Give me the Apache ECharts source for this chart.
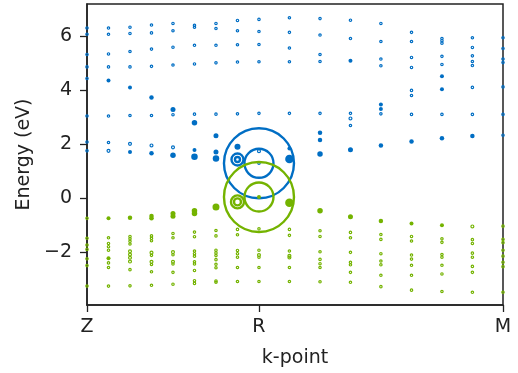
<!DOCTYPE html>
<html lang="en">

<head>
    <meta charset="utf-8">
    <title>band-structure</title>
    <script src="https://cdn.jsdelivr.net/npm/echarts@6/dist/echarts.min.js"></script>
    <style>
        html, body { margin: 0; padding: 0; background: #fff; }
        #container { width: 518px; height: 373px; }
    </style>
</head>

<body>
<div id="container"></div>
<script>
    // k-path distances (Z -> R -> M), 17 k-points
    const kDist = [0, 0.125, 0.25, 0.375, 0.5, 0.625, 0.75, 0.875, 1.0,
        1.177, 1.355, 1.532, 1.709, 1.887, 2.064, 2.241, 2.419];
    const kLabelPos = [0, 1, 2.419];
    const kLabels = ["Z", "R", "M"];
    const energyTicks = [-2, 0, 2, 4, 6];

    // conduction bands (blue): energies per k-point and marker weight
    const blueE = [
        [6.30, 6.07, 5.32, 4.86, 4.43, 3.04, 2.08, 1.75],
        [6.30, 6.07, 5.34, 4.86, 4.36, 3.04, 2.06, 1.75],
        [6.33, 6.10, 5.43, 4.86, 4.10, 3.06, 2.01, 1.71],
        [6.41, 6.12, 5.52, 4.88, 3.73, 3.06, 1.95, 1.66],
        [6.47, 6.20, 5.59, 4.93, 3.28, 3.09, 1.88, 1.59],
        [6.40, 6.33, 5.66, 4.97, 3.11, 2.79, 1.78, 1.53],
        [6.47, 6.28, 5.66, 5.01, 3.11, 2.31, 1.71, 1.47],
        [6.58, 6.20, 5.68, 5.04, 3.12, 1.90],
        [6.62, 6.17, 5.69, 5.05, 3.14, 1.74, 1.29],
        [6.68, 6.14, 5.56, 5.05, 3.14, 1.84, 1.45],
        [6.65, 6.04, 5.32, 5.06, 3.14, 2.42, 2.15, 1.63],
        [6.59, 5.91, 5.09, 3.14, 2.95, 2.69, 1.79],
        [6.47, 5.80, 5.15, 4.90, 3.47, 3.30, 3.12, 1.95],
        [6.14, 5.80, 5.21, 4.84, 3.99, 3.80, 3.10, 2.10],
        [5.91, 5.83, 5.74, 5.25, 4.95, 4.51, 4.03, 3.10, 2.22],
        [5.94, 5.58, 5.27, 5.06, 4.91, 4.10, 3.10, 2.30],
        [5.94, 5.54, 5.15, 5.02, 4.12, 3.10, 2.33]
    ];
    const blueW = [
        [3, 3, 3, 3, 3, 3, 3, 3],
        [3, 3, 3, 3, 4, 3, 3, 3.5],
        [3, 3, 3, 3, 4, 3, 3.5, 4],
        [3, 3, 3, 3, 4.5, 3, 3.5, 4.5],
        [3, 3, 3, 3, 5, 3, 3.5, 5.5],
        [3, 3, 3, 3, 3, 5.5, 4, 6.5],
        [3, 3, 3, 3, 3, 5, 5, 6.5],
        [3, 3, 3, 3, 3, 6],
        [3, 3, 3, 3, 3, 3.5, 3],
        [3, 3, 3, 3, 3, 4, 8.5],
        [3, 3, 3, 3, 3, 4.5, 4.5, 5.5],
        [3, 3, 4, 3, 3.5, 3, 5],
        [3, 3, 3, 3, 4, 4, 3, 4.5],
        [3, 3, 3, 3, 3, 3, 3, 4.5],
        [3, 3, 3, 3, 3, 4, 4, 3, 4.5],
        [3, 3, 3, 3, 3, 3, 3, 4.5],
        [3, 3, 3, 3, 3, 3, 3]
    ];
    const blueRingK = [8, 8, 7, 7];
    const blueRingE = [1.29, 1.29, 1.43, 1.43];
    const blueRingW = [70, 29, 12, 5];

    // valence bands (green)
    const greenE = [
        [-0.75, -1.49, -1.74, -1.90, -2.25, -2.50, -3.26],
        [-0.75, -1.47, -1.68, -1.80, -1.93, -2.23, -2.40, -2.57, -3.26],
        [-0.73, -1.42, -1.51, -1.60, -1.70, -1.97, -2.09, -2.21, -2.35, -2.65, -3.25],
        [-0.66, -0.75, -1.40, -1.49, -1.58, -2.02, -2.12, -2.36, -2.46, -2.73, -3.23],
        [-0.57, -0.67, -1.31, -1.47, -2.00, -2.10, -2.36, -2.44, -2.75, -3.19],
        [-0.47, -0.57, -1.26, -1.43, -1.96, -2.06, -2.15, -2.36, -2.44, -2.68, -3.06, -3.16],
        [-0.33, -1.20, -1.40, -1.93, -2.03, -2.13, -2.28, -2.45, -2.58, -3.07, -3.12],
        [-1.16, -1.36, -1.94, -2.06, -2.19, -2.57, -3.09],
        [0.04, -1.14, -1.93, -2.11, -2.19, -2.57, -3.09],
        [-0.17, -1.16, -1.38, -1.96, -2.14, -2.20, -2.57, -3.09],
        [-0.47, -1.21, -1.42, -1.99, -2.27, -2.43, -2.57, -3.10],
        [-0.69, -1.27, -1.47, -2.01, -2.38, -2.47, -2.75, -3.12],
        [-0.85, -1.35, -1.53, -2.06, -2.33, -2.47, -2.86, -3.28],
        [-0.94, -1.42, -1.59, -2.11, -2.26, -2.49, -2.86, -3.41],
        [-1.01, -1.51, -1.64, -2.09, -2.19, -2.49, -2.81, -3.46],
        [-1.05, -1.54, -1.68, -2.04, -2.19, -2.53, -2.75, -3.49],
        [-1.04, -1.53, -1.65, -1.93, -2.15, -2.38, -2.54, -3.49]
    ];
    const greenW = [
        [3, 3, 3, 3, 3, 3, 3],
        [4, 3, 3, 3, 3, 4, 3, 3, 3],
        [4.5, 3, 3, 3, 3, 3.5, 3.5, 3.5, 3.5, 3, 3],
        [4.5, 4.5, 3, 3, 3, 3.5, 3, 3.5, 3, 3, 3],
        [5, 5, 3, 3, 3.5, 3, 3.5, 3, 3, 3],
        [5.5, 5.5, 3, 3, 3, 3, 3, 3, 3, 3, 3, 3],
        [7, 3, 3, 3, 3, 3, 3, 3, 3, 3, 3],
        [3, 3, 3, 3, 3, 3, 3],
        [4, 3, 3, 3.5, 3, 3, 3],
        [8.5, 3, 3, 3, 3.5, 3.5, 3, 3],
        [5.5, 3, 3, 3, 3, 3, 3, 3],
        [5, 3, 3, 3, 3, 3, 3, 3],
        [4.5, 3, 3, 3, 3, 3, 3, 3],
        [4, 3, 3, 3, 3, 3, 3, 3],
        [4, 3, 3, 3, 3, 3, 3, 3],
        [3.5, 3, 3, 3, 3, 3, 3, 3],
        [3, 3, 3, 3, 3, 3, 3, 3]
    ];
    const greenRingK = [8, 8, 7, 7];
    const greenRingE = [0.04, 0.04, -0.14, -0.14];
    const greenRingW = [70, 29, 13, 7];

    const BLUE = "#006ec4";
    const GREEN = "#74b300";
    const FONT = "DejaVu Sans";

    // bigger weights read as solid dots, tiny ones as thin open circles
    function markerStyle(color, w) {
        if (w >= 4) {
            return {color: color, borderWidth: 0, opacity: 1};
        }
        return {color: "rgba(0,0,0,0)", borderColor: color, borderWidth: 1.2, opacity: 1};
    }

    function buildPoints(energies, weights, color) {
        const points = [];
        for (let i = 0; i < energies.length; i++) {
            for (let j = 0; j < energies[i].length; j++) {
                const w = weights[i][j];
                points.push({
                    value: [kDist[i], energies[i][j]],
                    symbolSize: w >= 4 ? w : w - 0.6,
                    itemStyle: markerStyle(color, w)
                });
            }
        }
        return points;
    }

    function buildRings(ks, energies, weights, color) {
        return ks.map((k, i) => ({
            value: [kDist[k], energies[i]],
            symbolSize: weights[i],
            itemStyle: {color: "rgba(0,0,0,0)", borderColor: color, borderWidth: 2.4, opacity: 1}
        }));
    }

    const option = {
        animation: false,
        grid: {
            left: 87,
            right: 15,
            top: 4,
            bottom: 68,
            show: true,
            borderColor: "#222",
            borderWidth: 1.5
        },
        xAxis: {
            type: "value",
            min: 0,
            max: 2.419,
            name: "k-point",
            nameLocation: "middle",
            nameGap: 44,
            nameTextStyle: {fontFamily: FONT, fontSize: 19, color: "#222"},
            axisLine: {onZero: false, lineStyle: {color: "#222", width: 1.5}},
            axisTick: {customValues: kLabelPos, length: 7, lineStyle: {color: "#222", width: 1.3}},
            axisLabel: {
                customValues: kLabelPos,
                margin: 13,
                fontFamily: FONT,
                fontSize: 19,
                color: "#222",
                formatter: v => {
                    let best = 0;
                    kLabelPos.forEach((p, i) => {
                        if (Math.abs(p - v) < Math.abs(kLabelPos[best] - v)) best = i;
                    });
                    return kLabels[best];
                }
            },
            splitLine: {show: false}
        },
        yAxis: {
            type: "value",
            min: -3.96,
            max: 7.19,
            name: "Energy (eV)",
            nameLocation: "middle",
            nameGap: 50,
            nameTextStyle: {fontFamily: FONT, fontSize: 19, color: "#222"},
            axisLine: {show: true, onZero: false, lineStyle: {color: "#222", width: 1.5}},
            axisTick: {show: true, customValues: energyTicks, length: 7, lineStyle: {color: "#222", width: 1.3}},
            axisLabel: {
                customValues: energyTicks,
                margin: 15,
                fontFamily: FONT,
                fontSize: 19,
                color: "#222",
                formatter: v => String(v).replace("-", "\u2212")
            },
            splitLine: {show: false}
        },
        series: [
            {type: "scatter", symbol: "circle", data: buildPoints(blueE, blueW, BLUE)},
            {type: "scatter", symbol: "circle", data: buildRings(blueRingK, blueRingE, blueRingW, BLUE)},
            {type: "scatter", symbol: "circle", data: buildPoints(greenE, greenW, GREEN)},
            {type: "scatter", symbol: "circle", data: buildRings(greenRingK, greenRingE, greenRingW, GREEN)}
        ]
    };

    const chart = echarts.init(document.getElementById("container"), null, {renderer: "canvas"});
    chart.setOption(option);
</script>
</body>

</html>
